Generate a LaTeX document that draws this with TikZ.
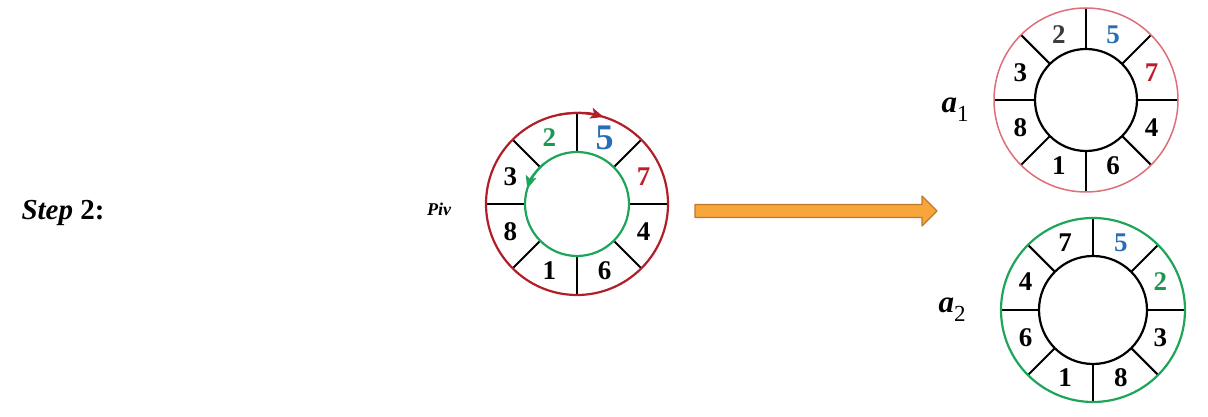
\documentclass[tikz,border=0pt]{standalone}
\usepackage{fontspec}
\setmainfont{Liberation Serif}
\usetikzlibrary{arrows.meta}

\definecolor{ringred}{RGB}{176,30,40}
\definecolor{ringpink}{RGB}{222,110,120}
\definecolor{ringgreen}{RGB}{30,165,90}
\definecolor{numblue}{RGB}{40,110,180}
\definecolor{numred}{RGB}{190,30,40}
\definecolor{numgreen}{RGB}{30,150,80}
\definecolor{numgray}{RGB}{60,60,60}
\definecolor{arroworange}{RGB}{248,165,60}
\definecolor{arrowedge}{RGB}{190,120,40}

\tikzset{
  ring/.style={circle, draw, outer sep=0pt, inner sep=0pt},
  digit/.style={font=\fontsize{27}{27}\selectfont\bfseries, inner sep=0pt},
  spoke/.style={line width=2.1pt},
  seqlabel/.style={font=\fontsize{31}{31}\selectfont\bfseries\itshape, inner sep=0pt},
}

\begin{document}
\begin{tikzpicture}[x=1pt,y=1pt]
  \useasboundingbox (0,0) rectangle (1208,417);

  \node[font=\fontsize{29}{29}\selectfont\bfseries, anchor=west] (steplbl) at (18,204) {\textit{Step} 2:};

  % pivot ring
  \coordinate (piv) at (577,213);
  \foreach \a in {0,45,...,315}
    \draw[spoke] (piv) ++(\a:52) -- ++(\a:39);
  \node[ring, draw=ringred, line width=2.2pt, minimum size=182pt] (pivout) at (piv) {};
  \node[ring, draw=ringgreen, line width=2.2pt, minimum size=104pt] (pivin) at (piv) {};
  \foreach \d/\a/\c/\s [count=\i] in {2/112.5/numgreen/27, 5/67.5/numblue/36, 7/22.5/numred/27, 4/-22.5/black/27,
      6/-67.5/black/27, 1/-112.5/black/27, 8/-157.5/black/27, 3/157.5/black/27}
    \node[digit, text=\c, font=\fontsize{\s}{\s}\selectfont\bfseries] (pivd\i) at ([shift={(\a:72)}]piv) {\d};
  \draw[ringred, line width=2pt, -{Stealth[length=13pt,width=11pt,inset=3pt]}] ([shift={(102:91)}]piv) arc[start angle=102, end angle=73, radius=91];
  \draw[ringgreen, line width=2pt, -{Stealth[length=13pt,width=11pt,inset=3pt]}] ([shift={(128:52)}]piv) arc[start angle=128, end angle=163, radius=52];
  \node[font=\fontsize{18}{18}\selectfont\bfseries\itshape] (pivlbl) at (439,208) {Piv};

  % orange arrow
  \draw[fill=arroworange, draw=arrowedge, line width=1.2pt, line join=round]
    (695,199.5) -- (922,199.5) -- (922,191) -- (937,206) -- (922,221) -- (922,212.5) -- (695,212.5) -- cycle;

  % ring a1
  \coordinate (one) at (1086,317);
  \foreach \a in {0,45,...,315}
    \draw[spoke] (one) ++(\a:51) -- ++(\a:41);
  \node[ring, draw=ringpink, line width=1.5pt, minimum size=184pt] (oneout) at (one) {};
  \node[ring, draw=black, line width=2.2pt, minimum size=102pt] (onein) at (one) {};
  \foreach \d/\a/\c [count=\i] in {2/112.5/numgray, 5/67.5/numblue, 7/22.5/numred, 4/-22.5/black,
      6/-67.5/black, 1/-112.5/black, 8/-157.5/black, 3/157.5/black}
    \node[digit, text=\c] (oned\i) at ([shift={(\a:71)}]one) {\d};
  \node[seqlabel] (onelbl) at (955,307) {a\raisebox{-0.3em}{\fontsize{23}{23}\selectfont\mdseries\upshape 1}};

  % ring a2
  \coordinate (two) at (1093,107);
  \foreach \a in {0,45,...,315}
    \draw[spoke] (two) ++(\a:54) -- ++(\a:38);
  \node[ring, draw=ringgreen, line width=2.2pt, minimum size=184pt] (twoout) at (two) {};
  \node[ring, draw=black, line width=2.2pt, minimum size=108pt] (twoin) at (two) {};
  \foreach \d/\a/\c [count=\i] in {7/112.5/black, 5/67.5/numblue, 2/22.5/numgreen, 3/-22.5/black,
      8/-67.5/black, 1/-112.5/black, 6/-157.5/black, 4/157.5/black}
    \node[digit, text=\c] (twod\i) at ([shift={(\a:73)}]two) {\d};
  \node[seqlabel] (twolbl) at (952,107) {a\raisebox{-0.3em}{\fontsize{23}{23}\selectfont\mdseries\upshape 2}};
\end{tikzpicture}
\end{document}
